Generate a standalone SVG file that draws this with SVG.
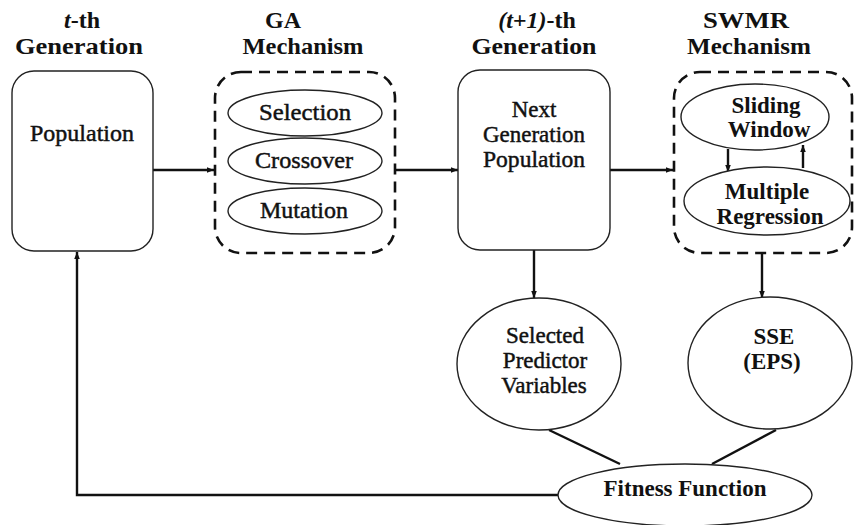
<svg xmlns="http://www.w3.org/2000/svg" width="854" height="525" viewBox="0 0 854 525">
<defs>
<marker id="ah" viewBox="0 0 10 10" refX="10" refY="5" markerWidth="7" markerHeight="7" markerUnits="userSpaceOnUse" orient="auto">
<path d="M0,1 L10,5 L0,9 z" fill="#111"/>
</marker>
<style>
.t{font-family:"Liberation Serif","Times New Roman",serif;font-weight:bold;font-size:24px;fill:#111;text-anchor:middle}
.b{font-family:"Liberation Serif","Times New Roman",serif;font-size:23px;fill:#111;text-anchor:middle;stroke:#111;stroke-width:0.45}
.bb{font-family:"Liberation Serif","Times New Roman",serif;font-weight:bold;font-size:23px;fill:#111;text-anchor:middle}
.box{fill:#fff;stroke:#222;stroke-width:1.4}
.dash{fill:none;stroke:#111;stroke-width:2.6;stroke-dasharray:11 7}
.el{fill:#fff;stroke:#222;stroke-width:1.4}
.c{fill:none;stroke:#111;stroke-width:2.4}
</style>
</defs>
<rect width="854" height="525" fill="#fff"/>

<g id="titles">
<text class="t" x="82" y="28"><tspan font-style="italic">t</tspan>-th</text>
<text class="t" x="79" y="54" textLength="128" lengthAdjust="spacingAndGlyphs">Generation</text>
<text class="t" x="283" y="28">GA</text>
<text class="t" x="303" y="54" textLength="121" lengthAdjust="spacingAndGlyphs">Mechanism</text>
<text class="t" x="537" y="28"><tspan font-style="italic">(t+1)</tspan>-th</text>
<text class="t" x="534" y="54" textLength="125" lengthAdjust="spacingAndGlyphs">Generation</text>
<text class="t" x="746" y="28" textLength="86" lengthAdjust="spacingAndGlyphs">SWMR</text>
<text class="t" x="749" y="54" textLength="124" lengthAdjust="spacingAndGlyphs">Mechanism</text>
</g>

<g id="connectors">
<line class="c" x1="153" y1="170" x2="214" y2="170" marker-end="url(#ah)"/>
<line class="c" x1="395" y1="170" x2="458" y2="170" marker-end="url(#ah)"/>
<line class="c" x1="610" y1="170" x2="673" y2="170" marker-end="url(#ah)"/>
<line class="c" x1="534" y1="250" x2="534" y2="298" marker-end="url(#ah)"/>
<line class="c" x1="762" y1="253" x2="762" y2="298" marker-end="url(#ah)"/>
<line class="c" x1="728" y1="149" x2="728" y2="172" marker-end="url(#ah)"/>
<line class="c" x1="803" y1="168" x2="803" y2="145" marker-end="url(#ah)"/>
<line class="c" x1="549" y1="430" x2="620" y2="464"/>
<line class="c" x1="776" y1="430" x2="712" y2="464"/>
<polyline class="c" points="558,495 77,495 77,252" marker-end="url(#ah)"/>
</g>

<g id="population">
<rect class="box" x="12" y="71" width="141" height="180" rx="22"/>
<text class="b" x="82" y="141" textLength="104" lengthAdjust="spacingAndGlyphs">Population</text>
</g>

<g id="ga">
<rect class="dash" x="215" y="72" width="180" height="181" rx="26"/>
<g id="selection"><ellipse class="el" cx="305" cy="113" rx="77" ry="23"/><text class="b" x="305" y="120" textLength="92" lengthAdjust="spacingAndGlyphs">Selection</text></g>
<g id="crossover"><ellipse class="el" cx="305" cy="161" rx="77" ry="23"/><text class="b" x="304" y="168" textLength="98" lengthAdjust="spacingAndGlyphs">Crossover</text></g>
<g id="mutation"><ellipse class="el" cx="305" cy="211" rx="77" ry="23"/><text class="b" x="304" y="218" textLength="88" lengthAdjust="spacingAndGlyphs">Mutation</text></g>
</g>

<g id="nextgen">
<rect class="box" x="458" y="70" width="152" height="180" rx="22"/>
<text class="b" x="534" y="117">Next</text>
<text class="b" x="534" y="142" textLength="102" lengthAdjust="spacingAndGlyphs">Generation</text>
<text class="b" x="534" y="167" textLength="102" lengthAdjust="spacingAndGlyphs">Population</text>
</g>

<g id="swmr">
<rect class="dash" x="674" y="72" width="178" height="181" rx="26"/>
<g id="sliding"><ellipse class="el" cx="755" cy="117" rx="74" ry="33"/><text class="bb" x="766" y="113">Sliding</text><text class="bb" x="769" y="137">Window</text></g>
<g id="multiple"><ellipse class="el" cx="767" cy="201" rx="83" ry="34"/><text class="bb" x="767" y="199">Multiple</text><text class="bb" x="770" y="224">Regression</text></g>
</g>

<g id="selected">
<ellipse class="el" cx="539" cy="364" rx="82" ry="66"/>
<text class="b" x="545" y="343">Selected</text>
<text class="b" x="545" y="368">Predictor</text>
<text class="b" x="544" y="393">Variables</text>
</g>

<g id="sse">
<ellipse class="el" cx="770" cy="363" rx="82" ry="66"/>
<text class="bb" x="774" y="344">SSE</text>
<text class="bb" x="772" y="369">(EPS)</text>
</g>

<g id="fitness">
<ellipse class="el" cx="685" cy="495" rx="127" ry="31"/>
<text class="bb" x="685" y="496">Fitness Function</text>
</g>
</svg>
